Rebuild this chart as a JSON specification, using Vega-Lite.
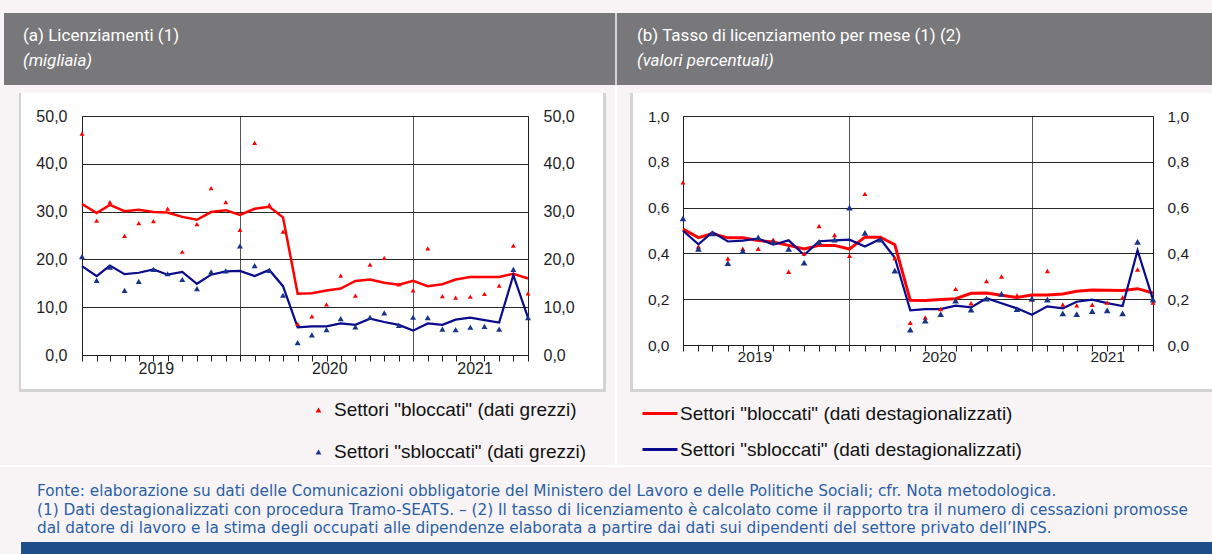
{
  "$schema": "https://vega.github.io/schema/vega-lite/v6.json",
  "background": "#ffffff",
  "padding": 0,
  "columns": 14,
  "spacing": 0,
  "align": "each",
  "bounds": "flush",
  "resolve": {"scale": {"color": "independent"}, "legend": {"color": "independent"}},
  "config": {
    "view": {"stroke": null},
    "axis": {"labelFont": "Liberation Sans", "labelColor": "#1e1e1e", "titleFont": "Liberation Sans"},
    "legend": {"labelFont": "Liberation Sans", "labelColor": "#111111", "padding": 0}
  },
  "datasets": {
    "a": [
      {"mese": "2019-01-01", "bg": 46.3, "bd": 31.6, "sg": 20.6, "sd": 18.6},
      {"mese": "2019-02-01", "bg": 28.1, "bd": 29.7, "sg": 15.6, "sd": 16.5},
      {"mese": "2019-03-01", "bg": 32.0, "bd": 31.4, "sg": 18.4, "sd": 18.7},
      {"mese": "2019-04-01", "bg": 24.9, "bd": 30.1, "sg": 13.5, "sd": 16.9},
      {"mese": "2019-05-01", "bg": 27.6, "bd": 30.4, "sg": 15.4, "sd": 17.2},
      {"mese": "2019-06-01", "bg": 28.0, "bd": 29.9, "sg": 17.9, "sd": 17.9},
      {"mese": "2019-07-01", "bg": 30.6, "bd": 29.8, "sg": 17.0, "sd": 16.8},
      {"mese": "2019-08-01", "bg": 21.6, "bd": 28.9, "sg": 15.8, "sd": 17.4},
      {"mese": "2019-09-01", "bg": 27.4, "bd": 28.3, "sg": 13.9, "sd": 14.9},
      {"mese": "2019-10-01", "bg": 34.9, "bd": 29.9, "sg": 17.4, "sd": 16.8},
      {"mese": "2019-11-01", "bg": 32.0, "bd": 30.3, "sg": 17.6, "sd": 17.5},
      {"mese": "2019-12-01", "bg": 26.2, "bd": 29.3, "sg": 22.8, "sd": 17.6},
      {"mese": "2020-01-01", "bg": 44.4, "bd": 30.6, "sg": 18.7, "sd": 16.5},
      {"mese": "2020-02-01", "bg": 31.4, "bd": 31.0, "sg": 17.7, "sd": 17.8},
      {"mese": "2020-03-01", "bg": 25.8, "bd": 28.8, "sg": 12.5, "sd": 14.4},
      {"mese": "2020-04-01", "bg": 6.5, "bd": 12.8, "sg": 2.6, "sd": 5.8},
      {"mese": "2020-05-01", "bg": 8.1, "bd": 12.9, "sg": 4.2, "sd": 6.0},
      {"mese": "2020-06-01", "bg": 10.6, "bd": 13.5, "sg": 5.3, "sd": 6.0},
      {"mese": "2020-07-01", "bg": 16.6, "bd": 13.9, "sg": 7.6, "sd": 6.6},
      {"mese": "2020-08-01", "bg": 12.4, "bd": 15.5, "sg": 5.9, "sd": 6.3},
      {"mese": "2020-09-01", "bg": 18.9, "bd": 15.8, "sg": 7.9, "sd": 7.6},
      {"mese": "2020-10-01", "bg": 20.3, "bd": 15.1, "sg": 8.8, "sd": 6.9},
      {"mese": "2020-11-01", "bg": 14.8, "bd": 14.7, "sg": 6.2, "sd": 6.3},
      {"mese": "2020-12-01", "bg": 13.5, "bd": 15.5, "sg": 7.9, "sd": 5.1},
      {"mese": "2021-01-01", "bg": 22.3, "bd": 14.4, "sg": 7.8, "sd": 6.6},
      {"mese": "2021-02-01", "bg": 12.3, "bd": 14.8, "sg": 5.4, "sd": 6.3},
      {"mese": "2021-03-01", "bg": 12.0, "bd": 15.8, "sg": 5.3, "sd": 7.4},
      {"mese": "2021-04-01", "bg": 12.2, "bd": 16.3, "sg": 5.8, "sd": 7.8},
      {"mese": "2021-05-01", "bg": 12.8, "bd": 16.3, "sg": 6.0, "sd": 7.3},
      {"mese": "2021-06-01", "bg": 14.5, "bd": 16.3, "sg": 5.4, "sd": 6.8},
      {"mese": "2021-07-01", "bg": 22.9, "bd": 17.0, "sg": 17.9, "sd": 16.7},
      {"mese": "2021-08-01", "bg": 12.9, "bd": 16.0, "sg": 7.8, "sd": 7.8}
    ],
    "b": [
      {"mese": "2019-01-01", "bg": 0.71, "bd": 0.506, "sg": 0.553, "sd": 0.499},
      {"mese": "2019-02-01", "bg": 0.43, "bd": 0.469, "sg": 0.42, "sd": 0.44},
      {"mese": "2019-03-01", "bg": 0.49, "bd": 0.487, "sg": 0.487, "sd": 0.493},
      {"mese": "2019-04-01", "bg": 0.378, "bd": 0.468, "sg": 0.358, "sd": 0.452},
      {"mese": "2019-05-01", "bg": 0.42, "bd": 0.468, "sg": 0.41, "sd": 0.456},
      {"mese": "2019-06-01", "bg": 0.42, "bd": 0.456, "sg": 0.47, "sd": 0.465},
      {"mese": "2019-07-01", "bg": 0.46, "bd": 0.45, "sg": 0.45, "sd": 0.438},
      {"mese": "2019-08-01", "bg": 0.32, "bd": 0.435, "sg": 0.42, "sd": 0.457},
      {"mese": "2019-09-01", "bg": 0.40, "bd": 0.419, "sg": 0.36, "sd": 0.393},
      {"mese": "2019-10-01", "bg": 0.52, "bd": 0.435, "sg": 0.45, "sd": 0.453},
      {"mese": "2019-11-01", "bg": 0.48, "bd": 0.435, "sg": 0.46, "sd": 0.457},
      {"mese": "2019-12-01", "bg": 0.39, "bd": 0.419, "sg": 0.60, "sd": 0.46},
      {"mese": "2020-01-01", "bg": 0.66, "bd": 0.471, "sg": 0.49, "sd": 0.43},
      {"mese": "2020-02-01", "bg": 0.46, "bd": 0.471, "sg": 0.46, "sd": 0.463},
      {"mese": "2020-03-01", "bg": 0.38, "bd": 0.438, "sg": 0.325, "sd": 0.381},
      {"mese": "2020-04-01", "bg": 0.097, "bd": 0.195, "sg": 0.067, "sd": 0.151},
      {"mese": "2020-05-01", "bg": 0.12, "bd": 0.194, "sg": 0.106, "sd": 0.157},
      {"mese": "2020-06-01", "bg": 0.157, "bd": 0.199, "sg": 0.135, "sd": 0.157},
      {"mese": "2020-07-01", "bg": 0.245, "bd": 0.202, "sg": 0.194, "sd": 0.172},
      {"mese": "2020-08-01", "bg": 0.182, "bd": 0.226, "sg": 0.154, "sd": 0.164},
      {"mese": "2020-09-01", "bg": 0.279, "bd": 0.227, "sg": 0.202, "sd": 0.204},
      {"mese": "2020-10-01", "bg": 0.299, "bd": 0.217, "sg": 0.223, "sd": 0.182},
      {"mese": "2020-11-01", "bg": 0.216, "bd": 0.208, "sg": 0.157, "sd": 0.16},
      {"mese": "2020-12-01", "bg": 0.20, "bd": 0.218, "sg": 0.202, "sd": 0.132},
      {"mese": "2021-01-01", "bg": 0.323, "bd": 0.218, "sg": 0.198, "sd": 0.169},
      {"mese": "2021-02-01", "bg": 0.177, "bd": 0.223, "sg": 0.138, "sd": 0.16},
      {"mese": "2021-03-01", "bg": 0.173, "bd": 0.235, "sg": 0.135, "sd": 0.189},
      {"mese": "2021-04-01", "bg": 0.176, "bd": 0.24, "sg": 0.148, "sd": 0.198},
      {"mese": "2021-05-01", "bg": 0.185, "bd": 0.239, "sg": 0.151, "sd": 0.183},
      {"mese": "2021-06-01", "bg": 0.208, "bd": 0.238, "sg": 0.138, "sd": 0.17},
      {"mese": "2021-07-01", "bg": 0.33, "bd": 0.246, "sg": 0.45, "sd": 0.413},
      {"mese": "2021-08-01", "bg": 0.185, "bd": 0.227, "sg": 0.198, "sd": 0.198}
    ]
  },
  "concat": [
    {"width": 4, "height": 13, "data": {"values": []}, "mark": "point", "view": {"fill": "#f8f4f6", "stroke": null}},
    {"width": 15, "height": 13, "data": {"values": []}, "mark": "point", "view": {"fill": "#f8f4f6", "stroke": null}},
    {"width": 2, "height": 13, "data": {"values": []}, "mark": "point", "view": {"fill": "#f8f4f6", "stroke": null}},
    {"width": 61, "height": 13, "data": {"values": []}, "mark": "point", "view": {"fill": "#f8f4f6", "stroke": null}},
    {"width": 446, "height": 13, "data": {"values": []}, "mark": "point", "view": {"fill": "#f8f4f6", "stroke": null}},
    {"width": 75, "height": 13, "data": {"values": []}, "mark": "point", "view": {"fill": "#f8f4f6", "stroke": null}},
    {"width": 3, "height": 13, "data": {"values": []}, "mark": "point", "view": {"fill": "#f8f4f6", "stroke": null}},
    {"width": 9, "height": 13, "data": {"values": []}, "mark": "point", "view": {"fill": "#f8f4f6", "stroke": null}},
    {"width": 2, "height": 13, "data": {"values": []}, "mark": "point", "view": {"fill": "#f8f4f6", "stroke": null}},
    {"width": 13, "height": 13, "data": {"values": []}, "mark": "point", "view": {"fill": "#f8f4f6", "stroke": null}},
    {"width": 3, "height": 13, "data": {"values": []}, "mark": "point", "view": {"fill": "#f8f4f6", "stroke": null}},
    {"width": 50, "height": 13, "data": {"values": []}, "mark": "point", "view": {"fill": "#f8f4f6", "stroke": null}},
    {"width": 470, "height": 13, "data": {"values": []}, "mark": "point", "view": {"fill": "#f8f4f6", "stroke": null}},
    {"width": 59, "height": 13, "data": {"values": []}, "mark": "point", "view": {"fill": "#f8f4f6", "stroke": null}},

    {"width": 4, "height": 72, "data": {"values": []}, "mark": "point", "view": {"fill": "#f8f4f6", "stroke": null}},
    {"width": 15, "height": 72, "data": {"values": []}, "mark": "point", "view": {"fill": "#78787a", "stroke": null}},
    {"width": 2, "height": 72, "data": {"values": []}, "mark": "point", "view": {"fill": "#78787a", "stroke": null}},
    {"width": 61, "height": 72, "data": {"values": []}, "mark": "point", "view": {"fill": "#78787a", "stroke": null}},
    {"width": 446, "height": 72, "data": {"values": []}, "mark": "point", "view": {"fill": "#78787a", "stroke": null},
     "title": {"text": "(a)  Licenziamenti (1)", "subtitle": "(migliaia)", "orient": "bottom", "anchor": "start", "frame": "group", "offset": -57, "dx": -59,
       "font": "Roboto", "fontSize": 17, "fontWeight": "normal", "color": "#ffffff",
       "subtitleFont": "Roboto", "subtitleFontSize": 17, "subtitleFontStyle": "italic", "subtitleColor": "#ffffff", "subtitlePadding": 8}},
    {"width": 75, "height": 72, "data": {"values": []}, "mark": "point", "view": {"fill": "#78787a", "stroke": null}},
    {"width": 3, "height": 72, "data": {"values": []}, "mark": "point", "view": {"fill": "#78787a", "stroke": null}},
    {"width": 9, "height": 72, "data": {"values": []}, "mark": "point", "view": {"fill": "#78787a", "stroke": null}},
    {"width": 2, "height": 72, "data": {"values": []}, "mark": "point", "view": {"fill": "#d2d2d4", "stroke": null}},
    {"width": 13, "height": 72, "data": {"values": []}, "mark": "point", "view": {"fill": "#78787a", "stroke": null}},
    {"width": 3, "height": 72, "data": {"values": []}, "mark": "point", "view": {"fill": "#78787a", "stroke": null}},
    {"width": 50, "height": 72, "data": {"values": []}, "mark": "point", "view": {"fill": "#78787a", "stroke": null}},
    {"width": 470, "height": 72, "data": {"values": []}, "mark": "point", "view": {"fill": "#78787a", "stroke": null},
     "title": {"text": "(b)  Tasso di licenziamento per mese (1) (2)", "subtitle": "(valori percentuali)", "orient": "bottom", "anchor": "start", "frame": "group", "offset": -57, "dx": -46,
       "font": "Roboto", "fontSize": 17, "fontWeight": "normal", "color": "#ffffff",
       "subtitleFont": "Roboto", "subtitleFontSize": 17, "subtitleFontStyle": "italic", "subtitleColor": "#ffffff", "subtitlePadding": 8}},
    {"width": 59, "height": 72, "data": {"values": []}, "mark": "point", "view": {"fill": "#78787a", "stroke": null}},

    {"width": 4, "height": 8, "data": {"values": []}, "mark": "point", "view": {"fill": "#f8f4f6", "stroke": null}},
    {"width": 15, "height": 8, "data": {"values": []}, "mark": "point", "view": {"fill": "#f8f4f6", "stroke": null}},
    {"width": 2, "height": 8, "data": {"values": []}, "mark": "point", "view": {"fill": "#f8f4f6", "stroke": null}},
    {"width": 61, "height": 8, "data": {"values": []}, "mark": "point", "view": {"fill": "#f8f4f6", "stroke": null}},
    {"width": 446, "height": 8, "data": {"values": []}, "mark": "point", "view": {"fill": "#f8f4f6", "stroke": null}},
    {"width": 75, "height": 8, "data": {"values": []}, "mark": "point", "view": {"fill": "#f8f4f6", "stroke": null}},
    {"width": 3, "height": 8, "data": {"values": []}, "mark": "point", "view": {"fill": "#f8f4f6", "stroke": null}},
    {"width": 9, "height": 8, "data": {"values": []}, "mark": "point", "view": {"fill": "#f8f4f6", "stroke": null}},
    {"width": 2, "height": 8, "data": {"values": []}, "mark": "point", "view": {"fill": "#ffffff", "stroke": null}},
    {"width": 13, "height": 8, "data": {"values": []}, "mark": "point", "view": {"fill": "#f8f4f6", "stroke": null}},
    {"width": 3, "height": 8, "data": {"values": []}, "mark": "point", "view": {"fill": "#f8f4f6", "stroke": null}},
    {"width": 50, "height": 8, "data": {"values": []}, "mark": "point", "view": {"fill": "#f8f4f6", "stroke": null}},
    {"width": 470, "height": 8, "data": {"values": []}, "mark": "point", "view": {"fill": "#f8f4f6", "stroke": null}},
    {"width": 59, "height": 8, "data": {"values": []}, "mark": "point", "view": {"fill": "#f8f4f6", "stroke": null}},

    {"width": 4, "height": 23, "data": {"values": []}, "mark": "point", "view": {"fill": "#f8f4f6", "stroke": null}},
    {"width": 15, "height": 23, "data": {"values": []}, "mark": "point", "view": {"fill": "#f8f4f6", "stroke": null}},
    {"width": 2, "height": 23, "data": {"values": []}, "mark": "point", "view": {"fill": "#d3d3d3", "stroke": null}},
    {"width": 61, "height": 23, "data": {"values": []}, "mark": "point"},
    {"width": 446, "height": 23, "data": {"values": []}, "mark": "point"},
    {"width": 75, "height": 23, "data": {"values": []}, "mark": "point"},
    {"width": 3, "height": 23, "data": {"values": []}, "mark": "point", "view": {"fill": "#d3d3d3", "stroke": null}},
    {"width": 9, "height": 23, "data": {"values": []}, "mark": "point", "view": {"fill": "#f8f4f6", "stroke": null}},
    {"width": 2, "height": 23, "data": {"values": []}, "mark": "point", "view": {"fill": "#ffffff", "stroke": null}},
    {"width": 13, "height": 23, "data": {"values": []}, "mark": "point", "view": {"fill": "#f8f4f6", "stroke": null}},
    {"width": 3, "height": 23, "data": {"values": []}, "mark": "point", "view": {"fill": "#d3d3d3", "stroke": null}},
    {"width": 50, "height": 23, "data": {"values": []}, "mark": "point"},
    {"width": 470, "height": 23, "data": {"values": []}, "mark": "point"},
    {"width": 59, "height": 23, "data": {"values": []}, "mark": "point"},

    {"width": 4, "height": 239, "data": {"values": []}, "mark": "point", "view": {"fill": "#f8f4f6", "stroke": null}},
    {"width": 15, "height": 239, "data": {"values": []}, "mark": "point", "view": {"fill": "#f8f4f6", "stroke": null}},
    {"width": 2, "height": 239, "data": {"values": []}, "mark": "point", "view": {"fill": "#d3d3d3", "stroke": null}},
    {"width": 61, "height": 239, "data": {"values": []}, "mark": "point"},
    {
      "width": 446, "height": 239,
      "data": {"name": "a"},
      "view": {"fill": "#ffffff", "stroke": "#1e1e1e", "strokeWidth": 1},
      "layer": [
        {
          "mark": {"type": "line", "color": "#ff0000", "strokeWidth": 2.5},
          "encoding": {
            "x": {"field": "mese", "type": "temporal",
              "scale": {"type": "utc", "nice": false, "domain": [{"year": 2019, "month": 1, "date": 1, "utc": true}, {"year": 2021, "month": 8, "date": 1, "utc": true}]},
              "axis": {"orient": "bottom", "tickCount": {"interval": "month", "step": 1}, "labels": false, "ticks": true, "tickSize": 6, "tickColor": "#1e1e1e", "domain": true, "domainColor": "#1e1e1e", "grid": false, "title": null}},
            "y": {"field": "bd", "type": "quantitative", "scale": {"domain": [0, 50], "nice": false},
              "axis": {"orient": "left", "values": [0, 10, 20, 30, 40, 50], "labelExpr": "replace(format(datum.value, '.1f'), '.', ',')", "grid": true, "gridColor": "#262626", "gridWidth": 1, "ticks": false, "domain": false, "labelPadding": 15, "labelFontSize": 16, "title": null}}
          }
        },
        {
          "mark": {"type": "line", "color": "#0a0a8c", "strokeWidth": 2.2},
          "encoding": {
            "x": {"field": "mese", "type": "temporal",
              "axis": {"orient": "bottom", "values": [{"year": 2019, "month": 12, "date": 1, "utc": true}, {"year": 2020, "month": 12, "date": 1, "utc": true}], "grid": true, "gridColor": "#555555", "gridWidth": 1, "labels": false, "ticks": false, "domain": false, "title": null}},
            "y": {"field": "sd", "type": "quantitative",
              "axis": {"orient": "right", "values": [0, 10, 20, 30, 40, 50], "labelExpr": "replace(format(datum.value, '.1f'), '.', ',')", "grid": false, "ticks": false, "domain": false, "labelPadding": 15, "labelFontSize": 16, "title": null}}
          }
        },
        {
          "mark": {"type": "point", "shape": "triangle-up", "filled": true, "color": "#ff0000", "size": 24, "opacity": 1},
          "encoding": {
            "x": {"field": "mese", "type": "temporal",
              "axis": {"orient": "bottom", "values": [{"year": 2019, "month": 6, "date": 6, "utc": true}, {"year": 2020, "month": 6, "date": 7, "utc": true}, {"year": 2021, "month": 4, "date": 10, "utc": true}], "format": "%Y", "ticks": false, "domain": false, "grid": false, "labelPadding": 5, "labelFontSize": 16, "labelFlush": false, "labelOverlap": false, "title": null}},
            "y": {"field": "bg", "type": "quantitative", "axis": null}
          }
        },
        {
          "mark": {"type": "point", "shape": "triangle-up", "filled": true, "color": "#17348a", "size": 36, "opacity": 1},
          "encoding": {
            "x": {"field": "mese", "type": "temporal", "axis": null},
            "y": {"field": "sg", "type": "quantitative", "axis": null}
          }
        }
      ],
      "resolve": {"axis": {"x": "independent", "y": "independent"}}
    },
    {"width": 75, "height": 239, "data": {"values": []}, "mark": "point"},
    {"width": 3, "height": 239, "data": {"values": []}, "mark": "point", "view": {"fill": "#d3d3d3", "stroke": null}},
    {"width": 9, "height": 239, "data": {"values": []}, "mark": "point", "view": {"fill": "#f8f4f6", "stroke": null}},
    {"width": 2, "height": 239, "data": {"values": []}, "mark": "point", "view": {"fill": "#ffffff", "stroke": null}},
    {"width": 13, "height": 239, "data": {"values": []}, "mark": "point", "view": {"fill": "#f8f4f6", "stroke": null}},
    {"width": 3, "height": 239, "data": {"values": []}, "mark": "point", "view": {"fill": "#d3d3d3", "stroke": null}},
    {"width": 50, "height": 239, "data": {"values": []}, "mark": "point"},
    {
      "width": 470, "height": 229,
      "data": {"name": "b"},
      "view": {"fill": "#ffffff", "stroke": "#1e1e1e", "strokeWidth": 1},
      "layer": [
        {
          "mark": {"type": "line", "color": "#ff0000", "strokeWidth": 3},
          "encoding": {
            "x": {"field": "mese", "type": "temporal",
              "scale": {"type": "utc", "nice": false, "domain": [{"year": 2019, "month": 1, "date": 1, "utc": true}, {"year": 2021, "month": 8, "date": 1, "utc": true}]},
              "axis": {"orient": "bottom", "tickCount": {"interval": "month", "step": 1}, "labels": false, "ticks": true, "tickSize": 6, "tickColor": "#1e1e1e", "domain": true, "domainColor": "#1e1e1e", "grid": false, "title": null}},
            "y": {"field": "bd", "type": "quantitative", "scale": {"domain": [0, 1], "nice": false},
              "axis": {"orient": "left", "values": [0, 0.2, 0.4, 0.6, 0.8, 1], "labelExpr": "replace(format(datum.value, '.1f'), '.', ',')", "grid": true, "gridColor": "#262626", "gridWidth": 1, "ticks": false, "domain": false, "labelPadding": 14, "labelFontSize": 15.5, "title": null}}
          }
        },
        {
          "mark": {"type": "line", "color": "#0a0a8c", "strokeWidth": 2.2},
          "encoding": {
            "x": {"field": "mese", "type": "temporal",
              "axis": {"orient": "bottom", "values": [{"year": 2019, "month": 12, "date": 1, "utc": true}, {"year": 2020, "month": 12, "date": 1, "utc": true}], "grid": true, "gridColor": "#555555", "gridWidth": 1, "labels": false, "ticks": false, "domain": false, "title": null}},
            "y": {"field": "sd", "type": "quantitative",
              "axis": {"orient": "right", "values": [0, 0.2, 0.4, 0.6, 0.8, 1], "labelExpr": "replace(format(datum.value, '.1f'), '.', ',')", "grid": false, "ticks": false, "domain": false, "labelPadding": 14, "labelFontSize": 15.5, "title": null}}
          }
        },
        {
          "mark": {"type": "point", "shape": "triangle-up", "filled": true, "color": "#ff0000", "size": 26, "opacity": 1},
          "encoding": {
            "x": {"field": "mese", "type": "temporal",
              "axis": {"orient": "bottom", "values": [{"year": 2019, "month": 5, "date": 24, "utc": true}, {"year": 2020, "month": 5, "date": 28, "utc": true}, {"year": 2021, "month": 5, "date": 1, "utc": true}], "format": "%Y", "ticks": false, "domain": false, "grid": false, "labelPadding": 4, "labelFontSize": 15.5, "labelFlush": false, "labelOverlap": false, "title": null}},
            "y": {"field": "bg", "type": "quantitative", "axis": null}
          }
        },
        {
          "mark": {"type": "point", "shape": "triangle-up", "filled": true, "color": "#17348a", "size": 44, "opacity": 1},
          "encoding": {
            "x": {"field": "mese", "type": "temporal", "axis": null},
            "y": {"field": "sg", "type": "quantitative", "axis": null}
          }
        }
      ],
      "resolve": {"axis": {"x": "independent", "y": "independent"}}
    },
    {"width": 59, "height": 239, "data": {"values": []}, "mark": "point"},

    {"width": 4, "height": 34, "data": {"values": []}, "mark": "point", "view": {"fill": "#f8f4f6", "stroke": null}},
    {"width": 15, "height": 34, "data": {"values": []}, "mark": "point", "view": {"fill": "#f8f4f6", "stroke": null}},
    {"width": 2, "height": 34, "data": {"values": []}, "mark": "point", "view": {"fill": "#d3d3d3", "stroke": null}},
    {"width": 61, "height": 34, "data": {"values": []}, "mark": "point"},
    {"width": 446, "height": 34, "data": {"values": []}, "mark": "point"},
    {"width": 75, "height": 34, "data": {"values": []}, "mark": "point"},
    {"width": 3, "height": 34, "data": {"values": []}, "mark": "point", "view": {"fill": "#d3d3d3", "stroke": null}},
    {"width": 9, "height": 34, "data": {"values": []}, "mark": "point", "view": {"fill": "#f8f4f6", "stroke": null}},
    {"width": 2, "height": 34, "data": {"values": []}, "mark": "point", "view": {"fill": "#ffffff", "stroke": null}},
    {"width": 13, "height": 34, "data": {"values": []}, "mark": "point", "view": {"fill": "#f8f4f6", "stroke": null}},
    {"width": 3, "height": 34, "data": {"values": []}, "mark": "point", "view": {"fill": "#d3d3d3", "stroke": null}},
    {"width": 50, "height": 34, "data": {"values": []}, "mark": "point"},
    {"width": 470, "height": 34, "data": {"values": []}, "mark": "point"},
    {"width": 59, "height": 34, "data": {"values": []}, "mark": "point"},

    {"width": 4, "height": 3, "data": {"values": []}, "mark": "point", "view": {"fill": "#f8f4f6", "stroke": null}},
    {"width": 15, "height": 3, "data": {"values": []}, "mark": "point", "view": {"fill": "#f8f4f6", "stroke": null}},
    {"width": 2, "height": 3, "data": {"values": []}, "mark": "point", "view": {"fill": "#d3d3d3", "stroke": null}},
    {"width": 61, "height": 3, "data": {"values": []}, "mark": "point", "view": {"fill": "#d3d3d3", "stroke": null}},
    {"width": 446, "height": 3, "data": {"values": []}, "mark": "point", "view": {"fill": "#d3d3d3", "stroke": null}},
    {"width": 75, "height": 3, "data": {"values": []}, "mark": "point", "view": {"fill": "#d3d3d3", "stroke": null}},
    {"width": 3, "height": 3, "data": {"values": []}, "mark": "point", "view": {"fill": "#d3d3d3", "stroke": null}},
    {"width": 9, "height": 3, "data": {"values": []}, "mark": "point", "view": {"fill": "#f8f4f6", "stroke": null}},
    {"width": 2, "height": 3, "data": {"values": []}, "mark": "point", "view": {"fill": "#ffffff", "stroke": null}},
    {"width": 13, "height": 3, "data": {"values": []}, "mark": "point", "view": {"fill": "#f8f4f6", "stroke": null}},
    {"width": 3, "height": 3, "data": {"values": []}, "mark": "point", "view": {"fill": "#d3d3d3", "stroke": null}},
    {"width": 50, "height": 3, "data": {"values": []}, "mark": "point", "view": {"fill": "#d3d3d3", "stroke": null}},
    {"width": 470, "height": 3, "data": {"values": []}, "mark": "point", "view": {"fill": "#d3d3d3", "stroke": null}},
    {"width": 59, "height": 3, "data": {"values": []}, "mark": "point", "view": {"fill": "#d3d3d3", "stroke": null}},

    {"width": 4, "height": 73, "data": {"values": []}, "mark": "point", "view": {"fill": "#f8f4f6", "stroke": null}},
    {"width": 15, "height": 73, "data": {"values": []}, "mark": "point", "view": {"fill": "#f8f4f6", "stroke": null}},
    {"width": 2, "height": 73, "data": {"values": []}, "mark": "point", "view": {"fill": "#f8f4f6", "stroke": null}},
    {"width": 61, "height": 73, "data": {"values": []}, "mark": "point", "view": {"fill": "#f8f4f6", "stroke": null}},
    {"width": 446, "height": 73, "data": {"values": []}, "mark": "point", "view": {"fill": "#f8f4f6", "stroke": null}},
    {
      "width": 75, "height": 73,
      "data": {"values": [{"voce": "Settori \"bloccati\" (dati grezzi)"}, {"voce": "Settori \"sbloccati\" (dati grezzi)"}]},
      "mark": {"type": "point", "filled": true, "shape": "triangle-up", "opacity": 0},
      "view": {"fill": "#f8f4f6", "stroke": null},
      "encoding": {
        "color": {"field": "voce", "type": "nominal",
          "scale": {"domain": ["Settori \"bloccati\" (dati grezzi)", "Settori \"sbloccati\" (dati grezzi)"], "range": ["#ff0000", "#17348a"]},
          "legend": {"orient": "none", "legendX": -219, "legendY": 8.5, "title": null, "symbolType": "triangle-up", "symbolSize": 34, "symbolOpacity": 1, "labelFontSize": 19, "labelOffset": 6, "rowPadding": 22, "labelLimit": 400}}
      }
    },
    {"width": 3, "height": 73, "data": {"values": []}, "mark": "point", "view": {"fill": "#f8f4f6", "stroke": null}},
    {"width": 9, "height": 73, "data": {"values": []}, "mark": "point", "view": {"fill": "#f8f4f6", "stroke": null}},
    {"width": 2, "height": 73, "data": {"values": []}, "mark": "point", "view": {"fill": "#ffffff", "stroke": null}},
    {"width": 13, "height": 73, "data": {"values": []}, "mark": "point", "view": {"fill": "#f8f4f6", "stroke": null}},
    {"width": 3, "height": 73, "data": {"values": []}, "mark": "point", "view": {"fill": "#f8f4f6", "stroke": null}},
    {"width": 50, "height": 73, "data": {"values": []}, "mark": "point", "view": {"fill": "#f8f4f6", "stroke": null}},
    {
      "width": 470, "height": 73,
      "data": {"values": [{"voce": "Settori \"bloccati\" (dati destagionalizzati)"}, {"voce": "Settori \"sbloccati\" (dati destagionalizzati)"}]},
      "mark": {"type": "point", "filled": false, "opacity": 0},
      "view": {"fill": "#f8f4f6", "stroke": null},
      "encoding": {
        "color": {"field": "voce", "type": "nominal",
          "scale": {"domain": ["Settori \"bloccati\" (dati destagionalizzati)", "Settori \"sbloccati\" (dati destagionalizzati)"], "range": ["#ff0000", "#0a0a8c"]},
          "legend": {"orient": "none", "legendX": -42, "legendY": 2.5, "title": null, "symbolType": "stroke", "symbolSize": 1225, "symbolStrokeWidth": 3, "symbolOpacity": 1, "labelFontSize": 19, "labelOffset": 1, "rowPadding": 7, "labelLimit": 500}}
      }
    },
    {"width": 59, "height": 73, "data": {"values": []}, "mark": "point", "view": {"fill": "#f8f4f6", "stroke": null}},

    {"width": 4, "height": 2, "data": {"values": []}, "mark": "point"},
    {"width": 15, "height": 2, "data": {"values": []}, "mark": "point"},
    {"width": 2, "height": 2, "data": {"values": []}, "mark": "point"},
    {"width": 61, "height": 2, "data": {"values": []}, "mark": "point"},
    {"width": 446, "height": 2, "data": {"values": []}, "mark": "point"},
    {"width": 75, "height": 2, "data": {"values": []}, "mark": "point"},
    {"width": 3, "height": 2, "data": {"values": []}, "mark": "point"},
    {"width": 9, "height": 2, "data": {"values": []}, "mark": "point"},
    {"width": 2, "height": 2, "data": {"values": []}, "mark": "point"},
    {"width": 13, "height": 2, "data": {"values": []}, "mark": "point"},
    {"width": 3, "height": 2, "data": {"values": []}, "mark": "point"},
    {"width": 50, "height": 2, "data": {"values": []}, "mark": "point"},
    {"width": 470, "height": 2, "data": {"values": []}, "mark": "point"},
    {"width": 59, "height": 2, "data": {"values": []}, "mark": "point"},

    {"width": 4, "height": 75, "data": {"values": []}, "mark": "point", "view": {"fill": "#f8f4f6", "stroke": null}},
    {"width": 15, "height": 75, "data": {"values": []}, "mark": "point", "view": {"fill": "#f8f4f6", "stroke": null}},
    {"width": 2, "height": 75, "data": {"values": []}, "mark": "point", "view": {"fill": "#f8f4f6", "stroke": null}},
    {"width": 61, "height": 75, "data": {"values": []}, "mark": "point", "view": {"fill": "#f8f4f6", "stroke": null}},
    {"width": 446, "height": 75, "data": {"values": []}, "mark": "point", "view": {"fill": "#f8f4f6", "stroke": null}},
    {"width": 75, "height": 75, "data": {"values": []}, "mark": "point", "view": {"fill": "#f8f4f6", "stroke": null}},
    {"width": 3, "height": 75, "data": {"values": []}, "mark": "point", "view": {"fill": "#f8f4f6", "stroke": null}},
    {"width": 9, "height": 75, "data": {"values": []}, "mark": "point", "view": {"fill": "#f8f4f6", "stroke": null}},
    {"width": 2, "height": 75, "data": {"values": []}, "mark": "point", "view": {"fill": "#f8f4f6", "stroke": null}},
    {"width": 13, "height": 75, "data": {"values": []}, "mark": "point", "view": {"fill": "#f8f4f6", "stroke": null}},
    {"width": 3, "height": 75, "data": {"values": []}, "mark": "point", "view": {"fill": "#f8f4f6", "stroke": null}},
    {"width": 50, "height": 75, "data": {"values": []}, "mark": "point", "view": {"fill": "#f8f4f6", "stroke": null}},
    {"width": 470, "height": 75, "data": {"values": []}, "mark": "point", "view": {"fill": "#f8f4f6", "stroke": null}},
    {"width": 59, "height": 75, "data": {"values": []}, "mark": "point", "view": {"fill": "#f8f4f6", "stroke": null},
     "title": {"text": ["Fonte: elaborazione su dati delle Comunicazioni obbligatorie del Ministero del Lavoro e delle Politiche Sociali; cfr. Nota metodologica.", "(1) Dati destagionalizzati con procedura Tramo-SEATS. – (2) Il tasso di licenziamento è calcolato come il rapporto tra il numero di cessazioni promosse", "dal datore di lavoro e la stima degli occupati alle dipendenze elaborata a partire dai dati sui dipendenti del settore privato  dell’INPS."],
       "orient": "bottom", "anchor": "start", "frame": "group", "offset": -58, "dx": -1116, "font": "DejaVu Sans", "fontSize": 15.3, "fontWeight": "normal", "color": "#2a5fa3", "lineHeight": 18.7, "limit": 1175}},

    {"width": 4, "height": 12, "data": {"values": []}, "mark": "point", "view": {"fill": "#f8f4f6", "stroke": null}},
    {"width": 15, "height": 12, "data": {"values": []}, "mark": "point", "view": {"fill": "#f8f4f6", "stroke": null}},
    {"width": 2, "height": 12, "data": {"values": []}, "mark": "point", "view": {"fill": "#f8f4f6", "stroke": null}},
    {"width": 61, "height": 12, "data": {"values": []}, "mark": "point", "view": {"fill": "#1d4e89", "stroke": null}},
    {"width": 446, "height": 12, "data": {"values": []}, "mark": "point", "view": {"fill": "#1d4e89", "stroke": null}},
    {"width": 75, "height": 12, "data": {"values": []}, "mark": "point", "view": {"fill": "#1d4e89", "stroke": null}},
    {"width": 3, "height": 12, "data": {"values": []}, "mark": "point", "view": {"fill": "#1d4e89", "stroke": null}},
    {"width": 9, "height": 12, "data": {"values": []}, "mark": "point", "view": {"fill": "#1d4e89", "stroke": null}},
    {"width": 2, "height": 12, "data": {"values": []}, "mark": "point", "view": {"fill": "#1d4e89", "stroke": null}},
    {"width": 13, "height": 12, "data": {"values": []}, "mark": "point", "view": {"fill": "#1d4e89", "stroke": null}},
    {"width": 3, "height": 12, "data": {"values": []}, "mark": "point", "view": {"fill": "#1d4e89", "stroke": null}},
    {"width": 50, "height": 12, "data": {"values": []}, "mark": "point", "view": {"fill": "#1d4e89", "stroke": null}},
    {"width": 470, "height": 12, "data": {"values": []}, "mark": "point", "view": {"fill": "#1d4e89", "stroke": null}},
    {"width": 59, "height": 12, "data": {"values": []}, "mark": "point", "view": {"fill": "#1d4e89", "stroke": null}}
  ]
}
